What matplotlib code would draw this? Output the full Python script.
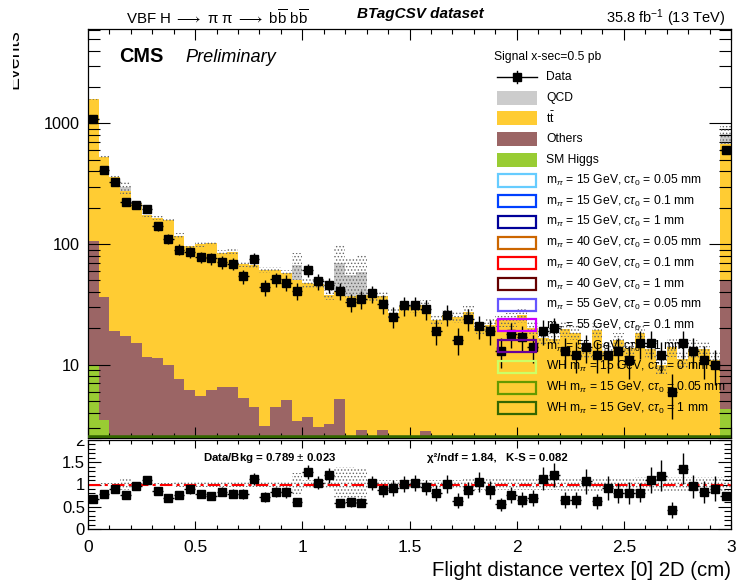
import numpy as np
import matplotlib
matplotlib.use('Agg')
import matplotlib.pyplot as plt
from matplotlib.patches import Rectangle
from matplotlib.lines import Line2D
from matplotlib.ticker import MultipleLocator, LogLocator, FuncFormatter, NullFormatter
from matplotlib.transforms import Bbox, TransformedBbox

plt.rcParams['font.family'] = ['Liberation Sans', 'DejaVu Sans']
plt.rcParams['mathtext.fontset'] = 'custom'
plt.rcParams['mathtext.rm'] = 'Liberation Sans'
plt.rcParams['mathtext.it'] = 'Liberation Sans:italic'
plt.rcParams['mathtext.bf'] = 'Liberation Sans:bold'
plt.rcParams['hatch.linewidth'] = 0.6

# binning: 60 bins of 0.05 cm between 0 and 3 cm
x_lo, x_hi, n_bins = 0.0, 3.0, 60

data = [1080, 415, 326, 225, 210, 194, 141, 111, 90, 86, 78, 76, 71, 69, 54, 75, 44, 51, 48, 41,
        61, 49, 46, 41, 33, 35, 39, 32, 25, 31, 31, 29, 19, 26, 16, 24, 21, 19, 13, 18,
        17, 14, 19, 20, 13, 12, 14, 12, 12, 13, 11, 15, 15, 12, 6, 15, 13, 11, 10, 600]

ttbar = [1494, 494, 341, 258, 204, 163, 153, 148, 110, 90, 95, 95, 78, 80, 63, 62, 58, 57, 53, 47,
         44, 44, 35, 36, 35, 35, 36, 34, 25.6, 28.7, 28.4, 28.2, 22.2, 24.3, 23.9, 26, 18.8, 20.5, 22.2, 22.7,
         24.5, 19, 15.9, 15.3, 18.8, 17.7, 12.2, 18.3, 12.3, 15.1, 13, 17.4, 12.8, 9.3, 13.2, 10.4, 12.7, 12.6, 10.3, 631]

qcd = [0, 0, 0, 20, 0, 0, 0, 0, 0, 0, 0, 0, 0, 0, 0, 0, 0, 0, 0, 17,
       0, 0, 0, 29, 18, 21, 0, 0, 0, 0, 0, 0, 0, 0, 0, 0, 0, 0, 0, 0,
       0, 0, 0, 0, 0, 0, 0, 0, 0, 0, 0, 0, 0, 0, 0, 0, 0, 0, 0, 130]

others = [96, 32.7, 18.5, 16.9, 14.6, 11.1, 10.9, 9.6, 7.3, 5.9, 5.2, 5.9, 6.3, 6.2, 5.1, 4.3, 2.9, 4.3, 4.9, 3.2,
          3.5, 2.85, 3.0, 5.0, 1.8, 2.7, 1.5, 2.7, 1.2, 1.6, 1.4, 2.6, 1.1, 1.3, 0.9, 1.2, 1.0, 0.8, 1.1, 0.9,
          1.0, 0.8, 0.7, 0.9, 0.8, 0.6, 0.7, 0.9, 0.6, 0.7, 0.5, 0.8, 0.6, 0.5, 0.6, 0.5, 0.7, 0.6, 0.5, 45]

smhiggs = [10, 3.5, 0.6, 0.5, 0.5, 0.4, 0.4, 0.4, 0.3, 0.3, 0.3, 0.3, 0.3, 0.3, 0.2, 0.2, 0.2, 0.2, 0.2, 0.2,
           0.2, 0.2, 0.2, 0.2, 0.2, 0.2, 0.2, 0.2, 0.2, 0.2, 0.2, 0.2, 0.2, 0.2, 0.2, 0.2, 0.2, 0.2, 0.2, 0.2,
           0.2, 0.2, 0.2, 0.2, 0.2, 0.2, 0.2, 0.2, 0.2, 0.2, 0.2, 0.2, 0.2, 0.2, 0.2, 0.2, 0.2, 0.2, 0.2, 4.3]

# relative bkg uncertainty (hatched band)
unc_rel = [0.02, 0.03, 0.03, 0.12, 0.04, 0.04, 0.04, 0.04, 0.05, 0.05, 0.05, 0.05, 0.05, 0.05, 0.05, 0.05, 0.05, 0.05, 0.05, 0.25,
           0.10, 0.09, 0.10, 0.40, 0.40, 0.38, 0.10, 0.10, 0.10, 0.10, 0.10, 0.11, 0.11, 0.11, 0.11, 0.12, 0.12, 0.12, 0.13, 0.13,
           0.13, 0.13, 0.13, 0.13, 0.14, 0.14, 0.14, 0.14, 0.15, 0.15, 0.15, 0.16, 0.16, 0.16, 0.17, 0.17, 0.17, 0.17, 0.17, 0.17]

sig_labels = [r'm$_{\pi}$ = 15 GeV, c$\tau_{0}$ = 0.05 mm', r'm$_{\pi}$ = 15 GeV, c$\tau_{0}$ = 0.1 mm',
              r'm$_{\pi}$ = 15 GeV, c$\tau_{0}$ = 1 mm', r'm$_{\pi}$ = 40 GeV, c$\tau_{0}$ = 0.05 mm',
              r'm$_{\pi}$ = 40 GeV, c$\tau_{0}$ = 0.1 mm', r'm$_{\pi}$ = 40 GeV, c$\tau_{0}$ = 1 mm',
              r'm$_{\pi}$ = 55 GeV, c$\tau_{0}$ = 0.05 mm', r'm$_{\pi}$ = 55 GeV, c$\tau_{0}$ = 0.1 mm',
              r'm$_{\pi}$ = 55 GeV, c$\tau_{0}$ = 1 mm', r'WH m$_{\pi}$ = 15 GeV, c$\tau_{0}$ = 0 mm',
              r'WH m$_{\pi}$ = 15 GeV, c$\tau_{0}$ = 0.05 mm', r'WH m$_{\pi}$ = 15 GeV, c$\tau_{0}$ = 1 mm']
sig_colors = ['#66ccff', '#0040ff', '#000099', '#cc6600', '#ff0000', '#660000',
              '#6655ff', '#cc00ff', '#660099', '#ccff66', '#669900', '#336600']

c_qcd, c_tt, c_oth, c_hig = '#cccccc', '#ffcc33', '#9b6565', '#99cc33'

W, H = 736, 582
def fx(x):
    return x / W
def fy(y):
    return 1 - y / H

edges = np.linspace(x_lo, x_hi, n_bins + 1)
bw = edges[1] - edges[0]
centers = edges[:-1] + bw / 2
data = np.array(data, float)
hig = np.array(smhiggs, float)
oth = np.array(others, float)
tt = np.array(ttbar, float)
qc = np.array(qcd, float)
unc = np.array(unc_rel)

fig = plt.figure(figsize=(W / 100, H / 100), dpi=100)
ax = fig.add_axes([fx(88), fy(438), (731 - 88) / W, (438 - 29) / H], zorder=1)
rax = fig.add_axes([fx(88), fy(529), (731 - 88) / W, (529 - 440) / H], zorder=0)

# stack
b1 = hig
b2 = b1 + oth
b3 = b2 + tt
total = b3 + qc
ax.stairs(b1, edges, baseline=0, fill=True, color=c_hig, lw=0)
ax.stairs(b2, edges, baseline=b1, fill=True, color=c_oth, lw=0)
ax.stairs(b3, edges, baseline=b2, fill=True, color=c_tt, lw=0)
ax.stairs(total, edges, baseline=b3, fill=True, color=c_qcd, lw=0)

ax.bar(edges[:-1], 2 * unc * total, bottom=total * (1 - unc), width=bw, align='edge',
       fill=False, hatch='.....', edgecolor='#666666', linewidth=0, zorder=2)

ax.errorbar(centers, data, yerr=np.sqrt(data), xerr=bw / 2, fmt='s', color='black',
            ms=5.4, elinewidth=1, capsize=0, zorder=5)

ymin, ymax = 2.47, 6070
ax.axhline(ymin, color='#336600', lw=4, zorder=3)
ax.set_xlim(x_lo, x_hi)
ax.set_yscale('log')
ax.set_ylim(ymin, ymax)
ax.xaxis.set_major_locator(MultipleLocator(0.5))
ax.xaxis.set_minor_locator(MultipleLocator(0.1))
ax.yaxis.set_major_locator(LogLocator(base=10))
ax.yaxis.set_minor_locator(LogLocator(base=10, subs=range(2, 10)))
ax.yaxis.set_minor_formatter(NullFormatter())
ax.yaxis.set_major_formatter(FuncFormatter(lambda v, p: f'{v:g}'))
ax.tick_params(axis='both', which='both', direction='in', top=True, right=True, width=0.8)
ax.tick_params(axis='x', which='major', length=7.7, labelbottom=False)
ax.tick_params(axis='x', which='minor', length=3.8)
ax.tick_params(axis='y', which='major', length=15.8, labelsize=11.7, pad=5.8)
ax.tick_params(axis='y', which='minor', length=8.4)
for s in ax.spines.values():
    s.set_linewidth(0.9)

# ratio panel
ratio = data / total
rax.bar(edges[:-1], 2 * unc, bottom=1 - unc, width=bw, align='edge',
        fill=False, hatch='.....', edgecolor='#666666', linewidth=0, zorder=1)
rax.axhline(1, color='red', ls=(0, (6, 2, 1.5, 2)), lw=1.5, zorder=2)
rax.errorbar(centers, ratio, yerr=np.sqrt(data) / total, xerr=bw / 2, fmt='s', color='black',
             ms=5.4, elinewidth=1, capsize=0, zorder=5)
rax.set_xlim(x_lo, x_hi)
rax.set_ylim(0, 2)
rax.xaxis.set_major_locator(MultipleLocator(0.5))
rax.xaxis.set_minor_locator(MultipleLocator(0.1))
rax.yaxis.set_major_locator(MultipleLocator(0.5))
rax.yaxis.set_minor_locator(MultipleLocator(0.1))
rax.xaxis.set_major_formatter(FuncFormatter(lambda v, p: f'{v:g}'))
rax.yaxis.set_major_formatter(FuncFormatter(lambda v, p: f'{v:g}'))
rax.tick_params(axis='both', which='both', direction='in', top=True, right=True, width=0.8)
rax.tick_params(axis='x', which='major', length=5.8, labelsize=12.5, pad=8)
rax.tick_params(axis='x', which='minor', length=2.9)
rax.tick_params(axis='y', which='major', length=9.4, labelsize=12, pad=2.2)
rax.tick_params(axis='y', which='minor', length=5)
for s in rax.spines.values():
    s.set_linewidth(0.9)

fig.add_artist(Rectangle((0, fy(440)), fx(88), 1 - fy(440), transform=fig.transFigure,
                         facecolor='white', edgecolor='none', zorder=0.5))

fig.text(fx(269.5), fy(458), 'Data/Bkg = 0.789 $\\pm$ 0.023', ha='center', va='center',
         fontsize=8.2, weight='bold')
fig.text(fx(497.5), fy(458), 'χ²/ndf = 1.84,   K-S = 0.082', ha='center', va='center',
         fontsize=8.2, weight='bold')

# header
fig.text(fx(126), fy(18), r'VBF H $\longrightarrow$ π π $\longrightarrow$ b$\overline{\mathrm{b}}$ b$\overline{\mathrm{b}}$',
         ha='left', va='center', fontsize=10.8)
fig.text(fx(420), fy(14), 'BTagCSV dataset', ha='center', va='center', fontsize=11,
         weight='bold', style='italic')
fig.text(fx(725), fy(18), r'35.8 fb$^{-1}$ (13 TeV)', ha='right', va='center', fontsize=10.5)
fig.text(fx(119), fy(57), 'CMS', ha='left', va='center', fontsize=14.3, weight='bold')
fig.text(fx(185), fy(57), 'Preliminary', ha='left', va='center', fontsize=13.1, style='italic')
fig.text(fx(731), fy(570), 'Flight distance vertex [0] 2D (cm)', ha='right', va='center', fontsize=14.7)
ev = fig.text(fx(14), fy(29), 'Events', rotation=90, ha='center', va='top', fontsize=14)
ev.set_clip_box(TransformedBbox(Bbox([[fx(13), 0], [1, 1]]), fig.transFigure))
ev.set_clip_on(True)

# legend
lx0, bx_w, bx_h, tx0 = 497, 40, 14, 546
fs_leg = 8.7
fig.text(fx(494), fy(57), 'Signal x-sec=0.5 pb', ha='left', va='center', fontsize=fs_leg)
rows = [('Data', None), ('QCD', c_qcd), (r't$\bar{\mathrm{t}}$', c_tt), ('Others', c_oth), ('SM Higgs', c_hig)]
rows += list(zip(sig_labels, sig_colors))
for i, (lab, col) in enumerate(rows):
    yc = 77 + i * 20.7
    if lab == 'Data':
        fig.add_artist(Line2D([fx(lx0), fx(lx0 + bx_w)], [fy(yc), fy(yc)], color='black', lw=1,
                              transform=fig.transFigure, zorder=6))
        fig.add_artist(Line2D([fx(lx0 + bx_w / 2)] * 2, [fy(yc - 6), fy(yc + 6)], color='black', lw=1,
                              transform=fig.transFigure, zorder=6))
        fig.add_artist(Line2D([fx(lx0 + bx_w / 2)], [fy(yc)], marker='s', ms=5.4, color='black',
                              transform=fig.transFigure, zorder=6))
    elif i < 5:
        fig.add_artist(Rectangle((fx(lx0), fy(yc + bx_h / 2)), bx_w / W, bx_h / H, transform=fig.transFigure,
                                 facecolor=col, edgecolor='none', zorder=6))
    else:
        fig.add_artist(Rectangle((fx(lx0 + 1), fy(yc + bx_h / 2 - 1)), (bx_w - 2) / W, (bx_h - 2) / H,
                                 transform=fig.transFigure, facecolor='none', edgecolor=col, lw=1.6, zorder=6))
    fig.text(fx(tx0), fy(yc), lab, ha='left', va='center', fontsize=fs_leg, zorder=7)

fig.savefig('out.png', dpi=100)
